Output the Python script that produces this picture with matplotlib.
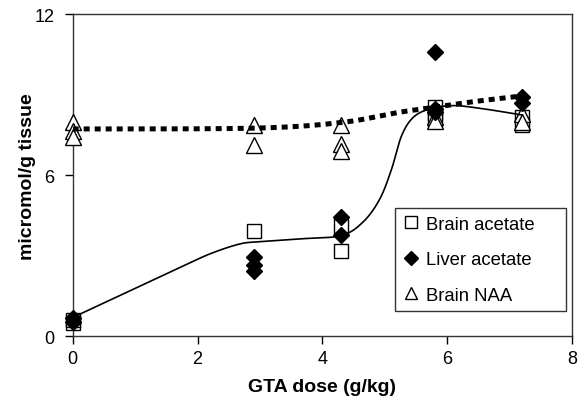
import numpy as np
import matplotlib
matplotlib.use("Agg")
import matplotlib.pyplot as plt

plt.rcParams['font.family'] = ['Liberation Sans', 'DejaVu Sans']

# Data
brain_acetate_x = [0, 0, 2.9, 4.3, 4.3, 5.8, 5.8, 5.8, 7.2, 7.2]
brain_acetate_y = [0.5, 0.6, 3.92, 3.18, 4.1, 8.55, 8.3, 8.1, 8.15, 7.85]
liver_acetate_x = [0, 0, 2.9, 2.9, 2.9, 4.3, 4.3, 5.8, 5.8, 5.8, 7.2, 7.2]
liver_acetate_y = [0.55, 0.7, 2.95, 2.65, 2.45, 4.43, 3.77, 10.58, 8.45, 8.35, 8.9, 8.7]
brain_naa_x = [0, 0, 0, 2.9, 2.9, 4.3, 4.3, 4.3, 5.8, 5.8, 7.2, 7.2]
brain_naa_y = [7.97, 7.64, 7.42, 7.87, 7.13, 7.85, 7.16, 6.9, 8.15, 8.0, 8.28, 7.97]

# Trend-line knots
acetate_curve_x = [0.0, 0.87, 1.67, 2.2, 2.68, 3.0, 3.66, 4.3, 4.65, 4.92, 5.11, 5.27, 5.46, 5.73, 6.1, 6.58, 7.2]
acetate_curve_y = [0.7, 1.64, 2.51, 3.07, 3.44, 3.52, 3.63, 3.75, 4.25, 5.11, 6.23, 7.47, 8.16, 8.47, 8.59, 8.47, 8.24]
naa_curve_x = [0, 2.9, 4.3, 5.2, 5.8, 6.5, 7.2]
naa_curve_y = [7.72, 7.75, 7.96, 8.33, 8.53, 8.76, 8.95]

x_ticks = [0, 2, 4, 6, 8]
y_ticks = [0, 6, 12]


def smooth(xs, ys, n=40):
    P = np.column_stack([xs, ys]).astype(float)
    ext = np.vstack([P[0], P, P[-1]])
    out = []
    t = np.linspace(0, 1, n)[:, None]
    for i in range(len(P) - 1):
        p0 = ext[i + 1]
        p3 = ext[i + 2]
        c1 = p0 + (ext[i + 2] - ext[i]) / 6.0
        c2 = p3 - (ext[i + 3] - ext[i + 1]) / 6.0
        seg = ((1 - t) ** 3) * p0 + 3 * ((1 - t) ** 2) * t * c1 + 3 * (1 - t) * t ** 2 * c2 + t ** 3 * p3
        out.append(seg)
    arr = np.vstack(out)
    return arr[:, 0], arr[:, 1]


fig = plt.figure(figsize=(5.81, 4.10), dpi=100)
ax = fig.add_axes([0.1251, 0.1773, 0.8594, 0.7861])

ax.plot(brain_acetate_x, brain_acetate_y, linestyle='none', marker='s', markersize=9.5,
        markerfacecolor='white', markeredgecolor='black', markeredgewidth=1.0,
        label='Brain acetate', zorder=3, clip_on=False)
ax.plot(liver_acetate_x, liver_acetate_y, linestyle='none', marker='D', markersize=8,
        markerfacecolor='black', markeredgecolor='black',
        label='Liver acetate', zorder=4, clip_on=False)
ax.plot(brain_naa_x, brain_naa_y, linestyle='none', marker='^', markersize=11,
        markerfacecolor='white', markeredgecolor='black', markeredgewidth=1.0,
        label='Brain NAA', zorder=3, clip_on=False)

sx, sy = smooth(acetate_curve_x, acetate_curve_y)
ax.plot(sx, sy, color='black', linewidth=1.2, zorder=5)
nx, ny = smooth(naa_curve_x, naa_curve_y)
ax.plot(nx, ny, color='black', linewidth=3.6, linestyle=(0, (1.2, 1.0)),
        dash_capstyle='butt', zorder=5)

ax.set_xlim(0, 8)
ax.set_ylim(0, 12)
ax.set_xticks(x_ticks)
ax.set_yticks(y_ticks)
ax.tick_params(direction='out', length=6, width=1, labelsize=13, colors='black')
ax.tick_params(axis='y', pad=7)
ax.tick_params(axis='x', pad=4)
for sp in ax.spines.values():
    sp.set_linewidth(1.0)
    sp.set_color('#333333')

ax.set_xlabel('GTA dose (g/kg)', fontsize=14, fontweight='bold', labelpad=8)
ax.set_ylabel('micromol/g tissue', fontsize=14, fontweight='bold', labelpad=-1)

leg = ax.legend(loc='lower left', bbox_to_anchor=(0.6455, 0.0785, 0.3425, 0.326),
                mode='expand', borderaxespad=0,
                fontsize=13.3, frameon=True, fancybox=False, edgecolor='black',
                handlelength=0.9, handletextpad=0.36, labelspacing=1.0,
                borderpad=0.4, markerscale=0.85)
leg.get_frame().set_linewidth(1.0)

fig.savefig('out.png', dpi=100)
